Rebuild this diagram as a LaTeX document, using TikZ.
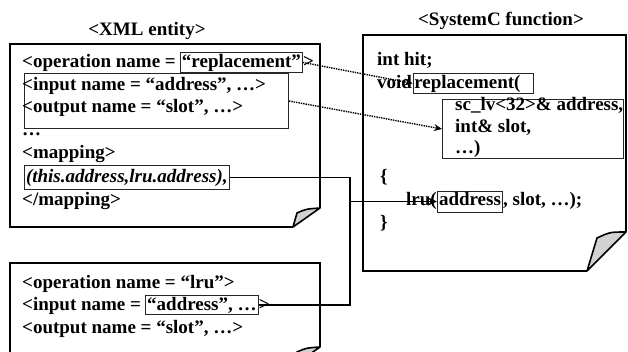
\documentclass[tikz,border=0pt]{standalone}
\usepackage{fontspec}
\setmainfont{Liberation Serif}
\usetikzlibrary{arrows.meta,calc}

\begin{document}
\begin{tikzpicture}[x=1pt,y=-1pt,
  every node/.style={font=\fontsize{19}{22}\selectfont\bfseries, inner sep=0pt},
  txt/.style={anchor=base west},
  frame/.style={line width=2.3pt, line join=miter},
  fold/.style={line width=1.6pt, fill=gray!35, line join=round},
  ibox/.style={draw=black!85, line width=1pt},
  wire/.style={line width=1.4pt},
  dots/.style={line width=1.4pt, densely dotted, -{Stealth[length=8pt,width=7pt]}},
  tip/.style={-{Stealth[length=9pt,width=8pt]}},
]
\useasboundingbox (0,0) rectangle (628,351);
\clip (0,0) rectangle (628,351);

% titles
\node[anchor=base] (tx) at (147,35) {<XML entity>};
\node[anchor=base] (ts) at (501,25) {<SystemC function>};

% page frames with curled corners
\draw[frame] (293,227) -- (10,227) -- (10,44) -- (320,44) -- (320,208);
\filldraw[fold] (293,227) -- (297,213) .. controls (306,209) .. (320,208) -- cycle;

\draw[frame] (293,366) -- (10,366) -- (10,263) -- (320,263) -- (320,347);
\filldraw[fold] (293,366) -- (297,352) .. controls (306,348) .. (320,347) -- cycle;

\draw[frame] (587,271) -- (363,271) -- (363,35) -- (626,35) -- (626,232);
\filldraw[fold] (587,271) -- (597,238) .. controls (610,232) .. (626,232) -- cycle;

% XML entity: replacement
\node[txt] (op) at (22,67) {<operation name =};
\node[ibox, anchor=base west, inner sep=1.5pt] (rep) at ($(op.base east)+(4,0)$) {“replacement”};
\node[txt] (opend) at (rep.base east) {>};
\node[ibox, anchor=north west, minimum width=264pt, minimum height=55pt] (io) at (24,73) {};
\node[txt] (in1) at (22,90) {<input name = “address”, …>};
\node[txt] (out1) at (22,112) {<output name = “slot”, …>};
\node[txt] (more) at (22,135) {…};
\node[txt] (mapA) at (22,158) {<mapping>};
\node[ibox, anchor=base west, inner xsep=1.5pt, inner ysep=3pt,
      font=\fontsize{19}{22}\selectfont\bfseries\itshape] (map) at (24,182) {(this.address,lru.address),};
\node[txt] (mapB) at (22,205) {</mapping>};

% XML entity: lru
\node[txt] (op2) at (22,288) {<operation name = “lru”>};
\node[txt] (in2) at (22,310) {<input name =};
\node[ibox, anchor=base west, inner sep=1.5pt] (lruin) at ($(in2.base east)+(4,0)$) {“address”, …};
\node[txt] (in2end) at (lruin.base east) {>};
\node[txt] (out2) at (22,333) {<output name = “slot”, …>};

% SystemC function
\node[txt] (hit) at (377,65) {int hit;};
\node[txt] (kwvoid) at (377,88) {void};
\node[ibox, anchor=base west, inner sep=1pt] (repfn) at ($(kwvoid.base east)+(0.5,0)$) {replacement(\hspace*{12pt}};
\node[ibox, anchor=north west, minimum width=181pt, minimum height=59pt] (par) at (442,99) {};
\node[txt] (p1) at (455,110) {sc\_lv<32>\& address,};
\node[txt] (p2) at (455,132) {int\& slot,};
\node[txt] (p3) at (455,153) {…)};
\node[txt] (ob) at (380,182) {\{};
\node[txt] (lruA) at (406,205) {lru(};
\node[ibox, anchor=base west, inner xsep=1.5pt, text height=14pt, text depth=7pt] (lrua) at (lruA.base east) {address};
\node[txt] (lruB) at (lrua.base east) {, slot, …);};
\node[txt] (cb) at (380,228) {\}};

% connectors
\draw[dots] (rep.east) -- (repfn.west);
\draw[dots] (io.east) -- (par.west);
\coordinate (busx) at (350,0);
\draw[wire] (map.east) -- (map.east -| busx) -- (lruin.east -| busx) -- (lruin.east);
\draw[wire, tip] (lrua.west -| busx) -- (lrua.west);
\end{tikzpicture}
\end{document}
